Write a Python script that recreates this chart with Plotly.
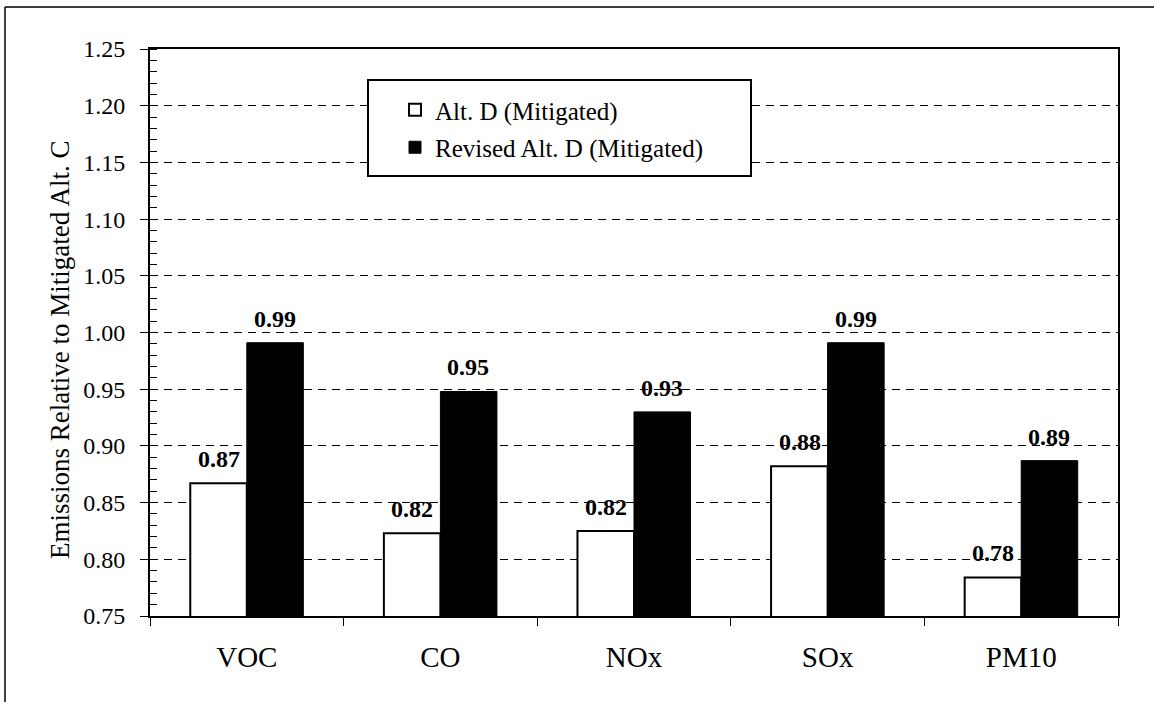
import plotly.graph_objects as go

categories = ["VOC", "CO", "NOx", "SOx", "PM10"]
alt_d = [0.867, 0.823, 0.825, 0.882, 0.784]
revised_alt_d = [0.991, 0.948, 0.930, 0.991, 0.887]
alt_d_labels = ["0.87", "0.82", "0.82", "0.88", "0.78"]
revised_labels = ["0.99", "0.95", "0.93", "0.99", "0.89"]
series_names = ["Alt. D (Mitigated)", "Revised Alt. D (Mitigated)"]
y_title = "Emissions Relative to Mitigated Alt. C"

FONT = "Liberation Serif"

fig = go.Figure()
fig.add_trace(go.Bar(
    x=categories, y=alt_d, name=series_names[0], legendgroup="a",
    marker=dict(color="white", line=dict(color="black", width=2)),
))
fig.add_trace(go.Bar(
    x=categories, y=revised_alt_d, name=series_names[1], legendgroup="b",
    marker=dict(color="black", line=dict(color="black", width=1)),
))

# plot area: x 150..1118, y 49..616 px
L, R, T, B = 150, 36, 49, 86
W, H = 1154 - L - R, 702 - T - B
def px_x(p):
    return (p - L) / W
def px_y(p):
    return (702 - B - p) / H

annotations = []
for cat, v, t in zip(categories, alt_d, alt_d_labels):
    annotations.append(dict(x=cat, y=v, text="<b>" + t + "</b>", showarrow=False, xshift=-28,
                            yanchor="bottom", yshift=9,
                            font=dict(family=FONT, size=24, color="black")))
for cat, v, t in zip(categories, revised_alt_d, revised_labels):
    annotations.append(dict(x=cat, y=v, text="<b>" + t + "</b>", showarrow=False, xshift=28,
                            yanchor="bottom", yshift=9,
                            font=dict(family=FONT, size=24, color="black")))
annotations.append(dict(xref="paper", yref="paper", x=px_x(60), y=px_y(350),
                        text=y_title, textangle=-90, showarrow=False,
                        xanchor="center", yanchor="middle",
                        font=dict(family=FONT, size=27, color="black")))

shapes = [
    dict(type="line", xref="paper", yref="paper", x0=px_x(5), x1=px_x(1160),
         y0=px_y(7), y1=px_y(7), line=dict(color="black", width=1.5)),
    dict(type="line", xref="paper", yref="paper", x0=px_x(5), x1=px_x(5),
         y0=px_y(7), y1=px_y(710), line=dict(color="black", width=1.5)),
    # legend frame
    dict(type="rect", xref="paper", yref="paper", layer="above",
         x0=px_x(368), x1=px_x(751), y0=px_y(80), y1=px_y(176),
         fillcolor="white", line=dict(color="black", width=2)),
]

fig.update_layout(
    width=1154, height=702,
    margin=dict(l=L, r=R, t=T, b=B, autoexpand=False),
    paper_bgcolor="white", plot_bgcolor="white",
    barmode="group", bargap=0.416, bargroupgap=0,
    font=dict(family=FONT, color="black"),
    showlegend=True,
    legend=dict(
        x=px_x(368), y=px_y(87), xanchor="left", yanchor="top",
        bgcolor="rgba(0,0,0,0)", borderwidth=0,
        font=dict(family=FONT, size=25, color="black"),
        tracegroupgap=2, indentation=27, itemwidth=30,
    ),
    annotations=annotations,
    shapes=shapes,
)
fig.update_xaxes(
    showline=True, linecolor="black", linewidth=2, mirror=True,
    ticks="outside", ticklen=8, tickcolor="black", tickwidth=1,
    tickson="boundaries", showgrid=False,
    tickfont=dict(family=FONT, size=29, color="black"),
    ticklabelstandoff=14,
)
fig.update_yaxes(
    range=[0.75, 1.25], dtick=0.05, tick0=0.75, tickformat=".2f",
    showline=True, linecolor="black", linewidth=2, mirror=True,
    ticks="outside", ticklen=8, tickcolor="black", tickwidth=1,
    showgrid=True, gridcolor="black", gridwidth=1, griddash="8px,6px",
    minor=dict(dtick=0.01, tick0=0.75, ticks="inside", ticklen=7,
               tickcolor="black", tickwidth=1, showgrid=False),
    tickfont=dict(family=FONT, size=24, color="black"),
    ticklabelstandoff=10,
    zeroline=False,
)

fig.write_html("out.html")
